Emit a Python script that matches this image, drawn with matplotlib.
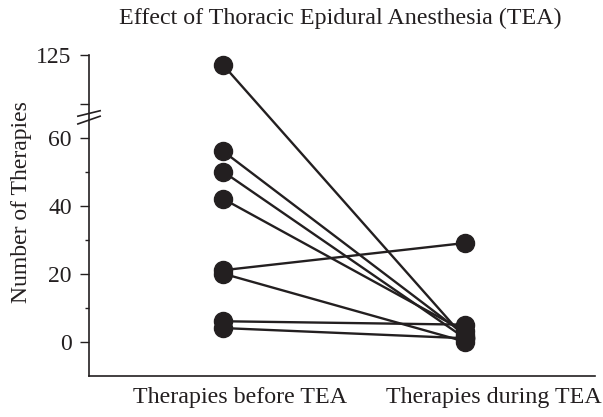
import numpy as np
import matplotlib
matplotlib.use("Agg")
import matplotlib.pyplot as plt

# --- DATA ---
groups = ["Therapies before TEA", "Therapies during TEA"]
before = [116, 56, 50, 42, 21, 20, 6, 4]
during = [1, 2, 1, 3, 29, 0, 5, 1]
yticks = [0, 20, 40, 60, 80, 125]
yticklabels = ["0", "20", "40", "60", "", "125"]
minor_yticks = [10, 30, 50]

# --- BROKEN AXIS SCALE (compress everything above the break) ---
BREAK = 65
K = 0.321


def fwd(v):
    v = np.asarray(v, dtype=float)
    return np.where(v <= BREAK, v, BREAK + (v - BREAK) * K)


def inv(v):
    v = np.asarray(v, dtype=float)
    return np.where(v <= BREAK, v, BREAK + (v - BREAK) / K)


plt.rcParams["font.family"] = ["Liberation Serif", "DejaVu Serif"]
ink = "#231f20"

fig = plt.figure(figsize=(6.03, 4.17), dpi=100)
ax = fig.add_axes([0.1476, 0.0983, 0.8391, 0.7697])
ax.set_yscale("function", functions=(fwd, inv))

for b, d in zip(before, during):
    ax.plot([0, 1], [b, d], color=ink, lw=1.7, marker="o", ms=13,
            mfc=ink, mec=ink, solid_capstyle="round")

ax.set_xlim(-0.554, 1.537)
ax.set_ylim(-10.1, 125)
ax.set_yticks(yticks)
ax.set_yticklabels(yticklabels, fontsize=17)
ax.set_yticks(minor_yticks, minor=True)
ax.tick_params(axis="y", which="major", length=6.5, width=1, color=ink,
               labelcolor=ink, pad=6)
ax.tick_params(axis="y", which="minor", length=3, width=1, color=ink)
ax.set_xticks([0.07, 1.12])
ax.set_xticklabels(groups, fontsize=17.3, color=ink)
ax.tick_params(axis="x", length=0, pad=8)

for s in ["top", "right"]:
    ax.spines[s].set_visible(False)
for s in ["left", "bottom"]:
    ax.spines[s].set_color(ink)
    ax.spines[s].set_linewidth(1.2)

# break marks on the y axis
trans = ax.get_yaxis_transform()
for yv in [66.5, 71.5]:
    ax.plot([-0.022, 0.022], [yv - 2.5, yv + 2.5], transform=trans,
            color=ink, lw=1.2, clip_on=False)

ax.set_ylabel("Number of Therapies", fontsize=17, color=ink)
ax.yaxis.set_label_coords(-0.113, 0.542)
fig.text(0.564, 0.957, "Effect of Thoracic Epidural Anesthesia (TEA)",
         fontsize=17.3, color=ink, ha="center", va="center")

plt.savefig("out.png", dpi=100)
